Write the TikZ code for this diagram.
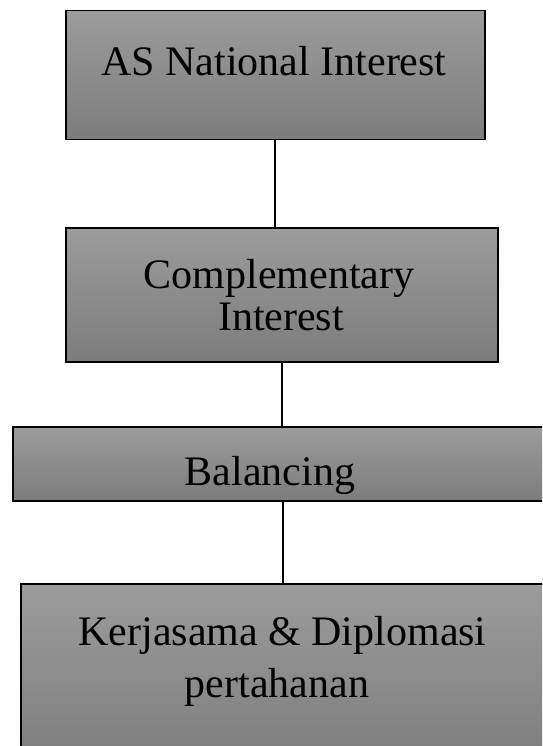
\documentclass[tikz,border=0pt]{standalone}
\usepackage{fontspec}
\setmainfont{Liberation Serif}
\definecolor{boxtop}{RGB}{156,156,156}
\definecolor{boxbot}{RGB}{124,124,124}
\tikzset{
  box/.style={draw=black, line width=1.5pt, top color=boxtop, bottom color=boxbot,
    rectangle, inner sep=0pt, anchor=north west},
  lbl/.style={anchor=base, inner sep=0pt, font=\fontsize{42}{50}\selectfont},
  link/.style={draw=black, line width=2pt}
}
\begin{document}
\begin{tikzpicture}[x=1pt,y=-1pt]
\useasboundingbox (0,0) rectangle (542,746);
\clip (0,0) rectangle (542,746);
\node[box, minimum width=419pt, minimum height=129pt] (b1) at (65,10) {};
\node[box, minimum width=432pt, minimum height=134pt] (b2) at (65,227) {};
\node[box, minimum width=548pt, minimum height=74pt] (b3) at (12,426) {};
\node[box, minimum width=550pt, minimum height=187pt] (b4) at (20,583) {};

\node[lbl] (t1) at (274,76) {AS National Interest};
\node[lbl] (t2a) at (279,288) {Complementary};
\node[lbl] (t2b) at (281,330) {Interest};
\node[lbl] (t3) at (270,485) {Balancing};
\node[lbl] (t4a) at (282.5,645) {Kerjasama \& Diplomasi};
\node[lbl] (t4b) at (277,697) {pertahanan};

\draw[link] ([xshift=210pt]b1.south west) -- ([xshift=210pt]b1.south west |- b2.north);
\draw[link] ([xshift=216.5pt]b2.south west) -- ([xshift=216.5pt]b2.south west |- b3.north);
\draw[link] ([xshift=271pt]b3.south west) -- ([xshift=271pt]b3.south west |- b4.north);
\end{tikzpicture}
\end{document}
